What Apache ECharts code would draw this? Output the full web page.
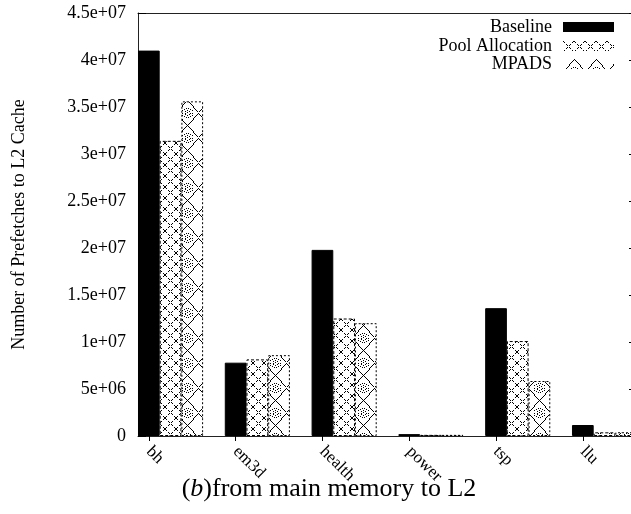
<!DOCTYPE html>
<html>
<head>
<meta charset="utf-8">
<script src="https://cdn.jsdelivr.net/npm/echarts@6/dist/echarts.min.js"></script>
<style>html,body{margin:0;padding:0;background:#fff;}#c{width:631px;height:514px;}</style>
</head>
<body>
<div id="c"></div>
<script>
const categories = ['bh', 'em3d', 'health', 'power', 'tsp', 'llu'];
const seriesNames = ['Baseline', 'Pool Allocation', 'MPADS'];
const baseline = [4.1e7, 7.8e6, 1.98e7, 2.0e5, 1.36e7, 1.17e6];
const poolAllocation = [3.14e7, 8.15e6, 1.25e7, 1.2e5, 1.01e7, 3.9e5];
const mpads = [3.56e7, 8.6e6, 1.2e7, 1.2e5, 5.85e6, 4.0e5];
const yAxisTitle = 'Number of Prefetches to L2 Cache';
const chartTitle = '({i|b})from main memory to L2';

const FONT = 'Liberation Serif';
const GROUP = 4; // 3 bars + 1 gap slot per category

function makePool() {
  const c = document.createElement('canvas');
  c.width = 11; c.height = 11;
  const g = c.getContext('2d');
  g.fillStyle = '#fff'; g.fillRect(0, 0, 11, 11);
  g.fillStyle = '#000';
  for (let i = 0; i < 11; i++) {
    if (i % 3 === 2) continue;
    g.fillRect(i, i, 1, 1);
    g.fillRect(10 - i, i, 1, 1);
  }
  return c;
}
function makeMpads() {
  const w = 22, h = 25;
  const c = document.createElement('canvas');
  c.width = w; c.height = h;
  const g = c.getContext('2d');
  g.fillStyle = '#fff'; g.fillRect(0, 0, w, h);
  g.fillStyle = '#000';
  const dotLine = (x0, y0, x1, y1, n) => {
    for (let k = 0; k <= n; k++) {
      const t = k / n;
      g.fillRect(Math.round(x0 + (x1 - x0) * t), Math.round(y0 + (y1 - y0) * t), 1, 1);
    }
  };
  dotLine(11, 0, 22, 12.5, 12);
  dotLine(22, 12.5, 11, 25, 12);
  dotLine(11, 25, 0, 12.5, 12);
  dotLine(0, 12.5, 11, 0, 12);
  const circ = (r, n) => {
    for (let k = 0; k < n; k++) {
      const a = k / n * Math.PI * 2;
      g.fillRect(Math.round(11 + r * Math.cos(a)), Math.round(12.5 + r * Math.sin(a)), 1, 1);
    }
  };
  circ(5, 14);
  circ(2.5, 8);
  g.fillRect(11, 12, 1, 1);
  return c;
}

const valuesList = [baseline, poolAllocation, mpads];
const styles = [
  { color: '#000', borderColor: '#000', borderWidth: 1, borderType: 'solid' },
  { color: { image: makePool(), repeat: 'repeat' }, borderColor: '#000', borderWidth: 1, borderType: [3, 2] },
  { color: { image: makeMpads(), repeat: 'repeat' }, borderColor: '#000', borderWidth: 1, borderType: [2, 2] }
];

const series = seriesNames.map((name, s) => ({
  name: name,
  type: 'bar',
  barWidth: 21.7,
  barGap: '-100%',
  itemStyle: styles[s],
  data: valuesList[s].map((v, i) => [i * GROUP + s, v])
}));

const tickPositions = categories.map((c, i) => i * GROUP);
const X_MIN = -0.5;
const X_MAX = 22.22;

function fmtY(v) {
  if (v === 0) return '0';
  const e = Math.floor(Math.log10(v) + 1e-9);
  const m = Math.round(v / Math.pow(10, e) * 100) / 100;
  return m + 'e+' + (e < 10 ? '0' + e : e);
}

const legendTops = [18, 37, 55];
const legends = seriesNames.map((n, i) => ({
  data: [n],
  right: 17,
  top: legendTops[i],
  padding: 0,
  align: 'right',
  icon: 'rect',
  itemWidth: 51,
  itemHeight: 10,
  selectedMode: false,
  itemStyle: { borderWidth: 0 },
  textStyle: { fontFamily: FONT, fontSize: 18, color: '#000', padding: [0, 6, 0, 0] }
}));

const chart = echarts.init(document.getElementById('c'), null, { renderer: 'canvas' });
chart.setOption({
  animation: false,
  backgroundColor: '#fff',
  title: {
    text: chartTitle,
    left: 324,
    textAlign: 'center',
    top: 471,
    textStyle: {
      fontFamily: FONT, fontSize: 26, fontWeight: 'normal', color: '#000',
      rich: { i: { fontFamily: FONT, fontSize: 26, fontStyle: 'italic', color: '#000' } }
    }
  },
  legend: legends,
  grid: { left: 138, top: 13, bottom: 78, right: 0, containLabel: false },
  xAxis: [{
    type: 'value',
    min: X_MIN,
    max: X_MAX,
    splitLine: { show: false },
    axisLine: { show: true, onZero: false, lineStyle: { color: '#222', width: 1 } },
    axisTick: { show: true, inside: false, length: 5, customValues: tickPositions, lineStyle: { color: '#000' } },
    axisLabel: {
      show: true, customValues: tickPositions, rotate: -45, margin: 13,
      fontFamily: FONT, fontSize: 17, color: '#000',
      formatter: v => categories[Math.round(v / GROUP)]
    }
  }, {
    type: 'value', position: 'top',
    min: X_MIN, max: X_MAX,
    splitLine: { show: false },
    axisLine: { show: true, onZero: false, lineStyle: { color: '#222', width: 1 } },
    axisTick: { show: false }, axisLabel: { show: false }
  }],
  yAxis: [{
    type: 'value',
    min: 0, max: 4.5e7, interval: 5e6,
    name: yAxisTitle,
    nameLocation: 'middle',
    nameGap: 110,
    nameRotate: 90,
    nameTextStyle: { fontFamily: FONT, fontSize: 18, color: '#000' },
    splitLine: { show: false },
    axisLine: { show: true, onZero: false, lineStyle: { color: '#222', width: 1 } },
    axisTick: { show: true, inside: true, length: 8, lineStyle: { color: '#000' } },
    axisLabel: { fontFamily: FONT, fontSize: 18, color: '#000', margin: 12, formatter: fmtY }
  }, {
    type: 'value', position: 'right',
    min: 0, max: 4.5e7, interval: 5e6,
    splitLine: { show: false },
    axisLine: { show: false, onZero: false },
    axisTick: { show: true, inside: true, length: 2, lineStyle: { color: '#000' } },
    axisLabel: { show: false }
  }],
  series: series
});
</script>
</body>
</html>
